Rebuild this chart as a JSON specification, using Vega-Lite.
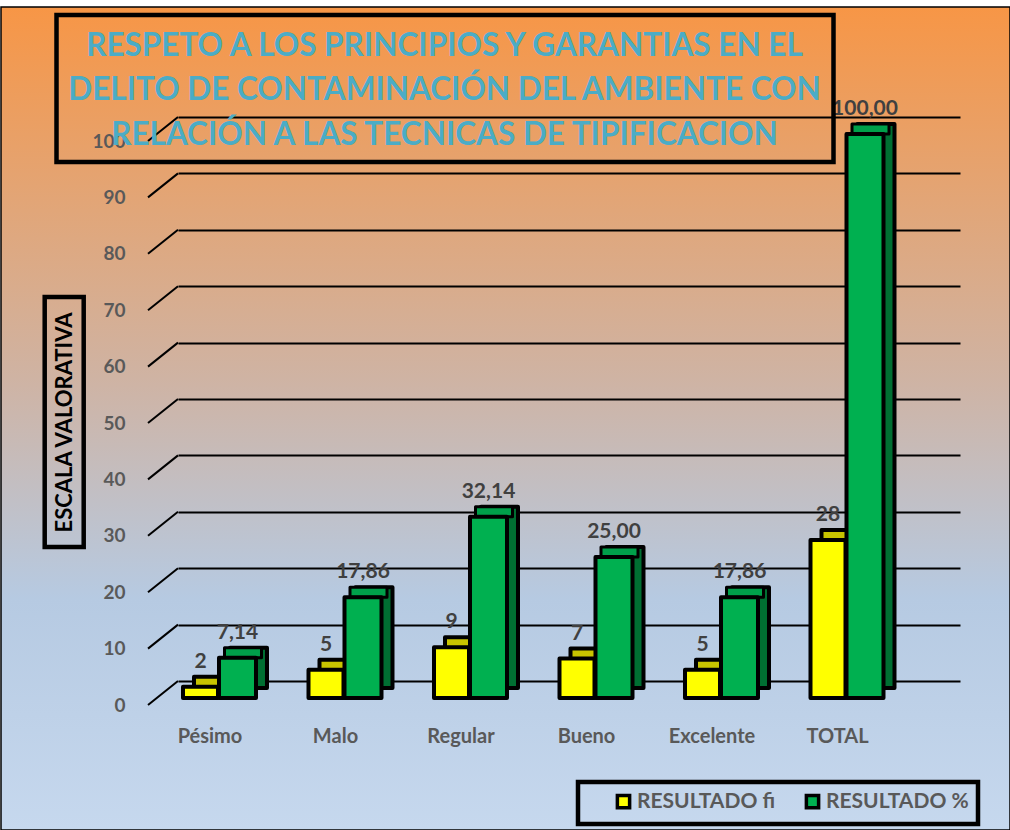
{
  "$schema": "https://vega.github.io/schema/vega-lite/v6.json",
  "padding": {"left": 1, "top": 7, "right": 0, "bottom": 0},
  "background": "white",
  "width": 1009,
  "height": 823,
  "config": {"legend": {"strokeWidth": 4.5}},
  "view": {
    "fill": {"gradient": "linear", "x1": 0, "y1": 0, "x2": 0, "y2": 1, "stops": [
      {"offset": 0, "color": "#F79646"},
      {"offset": 0.45, "color": "#CFB3A3"},
      {"offset": 0.72, "color": "#B6CAE2"},
      {"offset": 1, "color": "#C6D8EE"}
    ]},
    "stroke": "black",
    "strokeWidth": 1.5
  },
  "datasets": {
    "res": [
      {"cat": "Pésimo", "serie": "RESULTADO fi", "valor": 2, "etiqueta": "2"},
      {"cat": "Pésimo", "serie": "RESULTADO %", "valor": 7.14, "etiqueta": "7,14"},
      {"cat": "Malo", "serie": "RESULTADO fi", "valor": 5, "etiqueta": "5"},
      {"cat": "Malo", "serie": "RESULTADO %", "valor": 17.86, "etiqueta": "17,86"},
      {"cat": "Regular", "serie": "RESULTADO fi", "valor": 9, "etiqueta": "9"},
      {"cat": "Regular", "serie": "RESULTADO %", "valor": 32.14, "etiqueta": "32,14"},
      {"cat": "Bueno", "serie": "RESULTADO fi", "valor": 7, "etiqueta": "7"},
      {"cat": "Bueno", "serie": "RESULTADO %", "valor": 25.0, "etiqueta": "25,00"},
      {"cat": "Excelente", "serie": "RESULTADO fi", "valor": 5, "etiqueta": "5"},
      {"cat": "Excelente", "serie": "RESULTADO %", "valor": 17.86, "etiqueta": "17,86"},
      {"cat": "TOTAL", "serie": "RESULTADO fi", "valor": 28, "etiqueta": "28"},
      {"cat": "TOTAL", "serie": "RESULTADO %", "valor": 100.0, "etiqueta": "100,00"}
    ],
    "ticks": [{"v": 0}, {"v": 10}, {"v": 20}, {"v": 30}, {"v": 40}, {"v": 50}, {"v": 60}, {"v": 70}, {"v": 80}, {"v": 90}, {"v": 100}],
    "vacio": [{"t": "a", "w": 0}]
  },
  "resolve": {"scale": {"y": "independent"}, "axis": {"y": "independent"}},
  "layer": [
    {
      "data": {"name": "ticks"},
      "mark": {"type": "rule", "color": "black", "strokeWidth": 2, "yOffset": 24, "y2Offset": 0, "xOffset": -101.5, "x2Offset": -71.5},
      "encoding": {
        "x": {"datum": "Pésimo", "type": "nominal", "scale": {"type": "band", "domain": ["Pésimo", "Malo", "Regular", "Bueno", "Excelente", "TOTAL"], "range": [177, 959], "paddingInner": 0, "paddingOuter": 0.11554, "align": 0.3017},
          "axis": {"orient": "bottom", "offset": -94, "title": null, "domain": false, "ticks": false, "labelPadding": 0, "labelBaseline": "middle", "labelAngle": 0, "labelOffset": -39.5, "labelFont": "Lato", "labelFontSize": 20, "labelFontWeight": "bold", "labelColor": "#595959"}},
        "x2": {"datum": "Pésimo"},
        "y": {"field": "v", "type": "quantitative", "scale": {"domain": [0, 100], "range": [674, 110], "nice": false, "zero": true},
          "axis": {"orient": "left", "grid": true, "gridColor": "black", "gridWidth": 2, "labels": false, "ticks": false, "domain": false, "values": [0, 10, 20, 30, 40, 50, 60, 70, 80, 90, 100],
            "title": "ESCALA VALORATIVA", "titleX": 63, "titleY": 415, "titleAngle": 270, "titleAlign": "center", "titleBaseline": "middle",
            "titleFont": "Lato", "titleFontSize": 22, "titleFontWeight": "bold", "titleColor": "black"}},
        "y2": {"field": "v"}
      }
    },
    {
      "data": {"name": "res"},
      "layer": [
        {
          "transform": [{"filter": "datum.serie === 'RESULTADO fi'"}],
          "mark": {"type": "bar", "width": 35, "xOffset": -38, "yOffset": -10, "y2Offset": -10, "fill": "#C8C400", "stroke": "black", "strokeWidth": 4, "strokeJoin": "round"},
          "encoding": {
            "x": {"field": "cat", "type": "nominal", "sort": null, "scale": {"type": "band", "domain": ["Pésimo", "Malo", "Regular", "Bueno", "Excelente", "TOTAL"], "range": [177, 959], "paddingInner": 0, "paddingOuter": 0.11554, "align": 0.3017},
              "axis": {"orient": "bottom", "offset": -94, "title": null, "domain": false, "ticks": false, "labelPadding": 0, "labelBaseline": "middle", "labelAngle": 0, "labelOffset": -39.5, "labelFont": "Lato", "labelFontSize": 20, "labelFontWeight": "bold", "labelColor": "#595959"}},
            "y": {"field": "valor", "type": "quantitative", "scale": {"domain": [0, 100], "range": [691, 127], "nice": false, "zero": true},
              "axis": {"orient": "left", "offset": -126, "grid": false, "domain": false, "ticks": false, "tickSize": 0, "labelPadding": 2, "labelOffset": 7, "title": null, "values": [0, 10, 20, 30, 40, 50, 60, 70, 80, 90, 100], "labelFont": "Lato", "labelFontSize": 19, "labelFontWeight": "bold", "labelColor": "#595959"}}
          }
        },
        {
          "transform": [{"filter": "datum.serie === 'RESULTADO %'"}],
          "mark": {"type": "bar", "width": 37, "xOffset": -1, "yOffset": -10, "y2Offset": -10, "fill": "#006F32", "stroke": "black", "strokeWidth": 4, "strokeJoin": "round"},
          "encoding": {
            "x": {"field": "cat", "type": "nominal", "sort": null},
            "y": {"field": "valor", "type": "quantitative"}
          }
        },
        {
          "transform": [{"filter": "datum.serie === 'RESULTADO %'"}],
          "mark": {"type": "bar", "width": 37, "xOffset": -6.5, "yOffset": -10, "fill": "#00A04A", "stroke": "black", "strokeWidth": 3, "strokeJoin": "round"},
          "encoding": {
            "x": {"field": "cat", "type": "nominal", "sort": null},
            "y": {"field": "valor", "type": "quantitative"},
            "y2": {"field": "valor"}
          }
        },
        {
          "transform": [{"filter": "datum.serie === 'RESULTADO fi'"}],
          "mark": {"type": "bar", "width": 35, "xOffset": -49, "stroke": "black", "strokeWidth": 4, "strokeJoin": "round"},
          "encoding": {
            "x": {"field": "cat", "type": "nominal", "sort": null},
            "y": {"field": "valor", "type": "quantitative"},
            "color": {"field": "serie", "type": "nominal",
              "scale": {"domain": ["RESULTADO fi", "RESULTADO %"], "range": ["#FFFF00", "#00B050"]},
              "legend": {"orient": "none", "legendX": 577, "legendY": 775, "direction": "horizontal", "title": null,
                "strokeColor": "black", "padding": 9, "symbolOffset": 26,
                "symbolType": "square", "symbolSize": 150, "symbolStrokeColor": "black", "symbolStrokeWidth": 3.5,
                "labelExpr": "datum.label == 'RESULTADO %' ? datum.label + '\u00a0\u00a0\u00a0' : datum.label",
                "labelFont": "Lato", "labelFontSize": 21, "labelFontWeight": "bold", "labelColor": "#595959", "labelOffset": 3, "columnPadding": 0}}
          }
        },
        {
          "transform": [{"filter": "datum.serie === 'RESULTADO %'"}],
          "mark": {"type": "bar", "width": 37, "xOffset": -12, "stroke": "black", "strokeWidth": 4, "strokeJoin": "round"},
          "encoding": {
            "x": {"field": "cat", "type": "nominal", "sort": null},
            "y": {"field": "valor", "type": "quantitative"},
            "color": {"field": "serie", "type": "nominal"}
          }
        },
        {
          "transform": [{"filter": "datum.serie === 'RESULTADO fi'"}],
          "mark": {"type": "text", "xOffset": -49, "dy": -25, "baseline": "middle", "font": "Lato", "fontSize": 21, "fontWeight": "bold", "color": "#404040"},
          "encoding": {
            "x": {"field": "cat", "type": "nominal", "sort": null},
            "y": {"field": "valor", "type": "quantitative"},
            "text": {"field": "etiqueta"}
          }
        },
        {
          "transform": [{"filter": "datum.serie === 'RESULTADO %'"}],
          "mark": {"type": "text", "xOffset": -12, "dy": -25, "baseline": "middle", "font": "Lato", "fontSize": 21, "fontWeight": "bold", "color": "#404040"},
          "encoding": {
            "x": {"field": "cat", "type": "nominal", "sort": null},
            "y": {"field": "valor", "type": "quantitative"},
            "text": {"field": "etiqueta"}
          }
        },
        {
          "data": {"name": "vacio"},
          "mark": {"type": "point", "opacity": 0},
          "encoding": {
            "shape": {"field": "t", "type": "nominal", "scale": {"range": ["circle"]},
              "legend": {"orient": "none", "legendX": 55.5, "legendY": 8,
                "title": ["RESPETO A LOS PRINCIPIOS Y GARANTIAS EN EL", "DELITO DE CONTAMINACIÓN DEL AMBIENTE CON", "RELACIÓN A LAS TECNICAS DE TIPIFICACION"],
                "titleFont": "Lato", "titleFontSize": 31.5, "titleFontWeight": "bold", "titleColor": "#4BACC6", "titleLineHeight": 44.5,
                "titleLimit": 2000, "titleAlign": "center", "titleAnchor": "middle", "titleOrient": "bottom", "titlePadding": 3.5,
                "strokeColor": "black", "padding": 11,
                "labelExpr": "''", "labelFontSize": 1, "labelOffset": 0, "symbolOpacity": 0, "symbolStrokeWidth": 0, "symbolSize": 1}},
            "fill": {"field": "w", "type": "quantitative", "scale": {"domain": [0, 1], "range": ["white", "white"]},
              "legend": {"orient": "none", "legendX": 43.7, "legendY": 290, "direction": "vertical", "title": null,
                "gradientLength": 230, "gradientThickness": 19, "gradientOpacity": 0, "gradientStrokeWidth": 0,
                "strokeColor": "black", "padding": 10,
                "labelExpr": "''", "labelFontSize": 1, "labelOffset": 0}}
          }
        }
      ]
    }
  ]
}
